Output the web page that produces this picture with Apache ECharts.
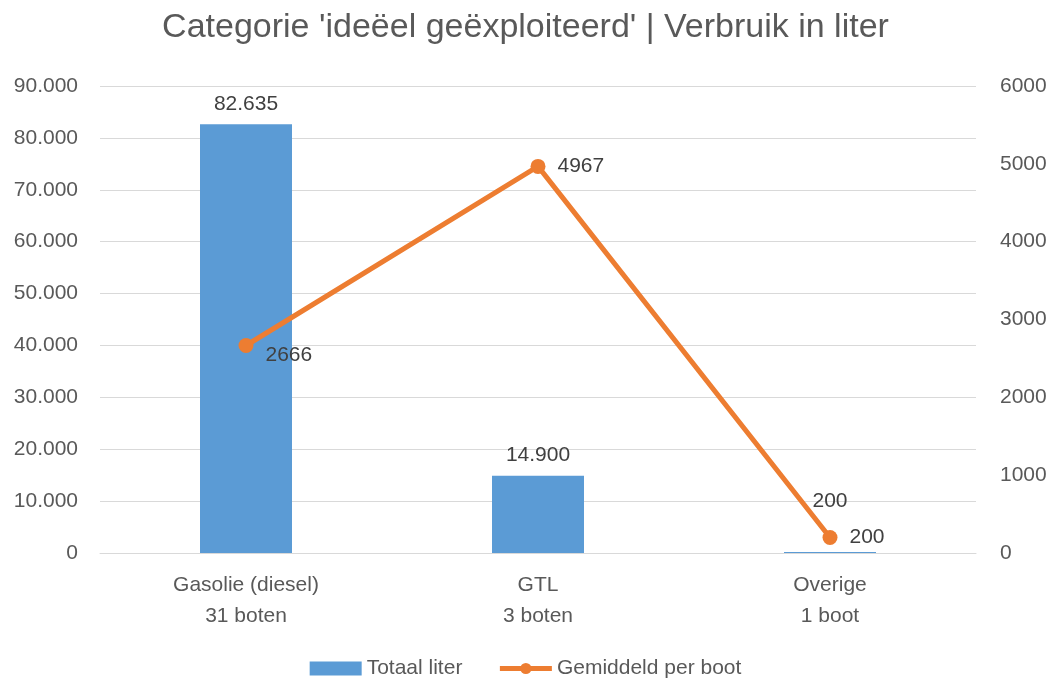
<!DOCTYPE html>
<html><head><meta charset="utf-8">
<script src="https://cdn.jsdelivr.net/npm/echarts@6/dist/echarts.min.js"></script>
<style>html,body{margin:0;padding:0;background:#fff}#c{width:1051px;height:678px}</style>
</head><body><div id="c"></div>
<script>
const categories = ['Gasolie (diesel)\n31 boten', 'GTL\n3 boten', 'Overige\n1 boot'];
const totaalLiter = [82635, 14900, 200];
const gemiddeldPerBoot = [2666, 4967, 200];
const FONT = '"Liberation Sans", "Noto Sans", sans-serif';
const FS = 21;
const fmt = v => String(v).replace(/\B(?=(\d{3})+(?!\d))/g, '.');
const chart = echarts.init(document.getElementById('c'));
chart.setOption({
  animation: false,
  textStyle: {fontFamily: FONT},
  title: {text: "Categorie 'ideëel geëxploiteerd' | Verbruik in liter", left: 'center', top: 6,
    textStyle: {fontFamily: FONT, fontSize: 34, fontWeight: 'normal', color: '#595959'}},
  legend: {top: 653, left: 'center', itemGap: 35, itemWidth: 52, itemHeight: 14,
    textStyle: {fontFamily: FONT, fontSize: FS, color: '#595959'},
    data: [{name: 'Totaal liter', icon: 'rect'}, {name: 'Gemiddeld per boot', lineStyle: {width: 5}}]},
  grid: {left: 100, right: 75, top: 86, bottom: 125},
  xAxis: {type: 'category', data: categories,
    axisLine: {lineStyle: {color: '#D9D9D9'}}, axisTick: {show: false},
    axisLabel: {fontFamily: FONT, fontSize: FS, color: '#595959', lineHeight: 31, margin: 17}},
  yAxis: [
    {type: 'value', min: 0, max: 90000, interval: 10000,
      axisLabel: {fontFamily: FONT, fontSize: FS, color: '#595959', margin: 22, formatter: fmt},
      splitLine: {lineStyle: {color: '#D9D9D9', width: 1}}},
    {type: 'value', min: 0, max: 6000, interval: 1000,
      axisLabel: {fontFamily: FONT, fontSize: FS, color: '#595959', margin: 24, formatter: v => String(v)},
      splitLine: {show: false}}
  ],
  series: [
    {name: 'Totaal liter', type: 'bar', data: totaalLiter, barWidth: 92, yAxisIndex: 0,
      itemStyle: {color: '#5B9BD5'},
      label: {show: true, position: 'top', distance: 10, fontFamily: FONT, fontSize: FS, color: '#404040',
        formatter: p => fmt(p.value)}},
    {name: 'Gemiddeld per boot', type: 'line', data: gemiddeldPerBoot, yAxisIndex: 1,
      symbol: 'circle', symbolSize: 15,
      lineStyle: {color: '#ED7D31', width: 5}, itemStyle: {color: '#ED7D31'},
      label: {show: true, position: 'right', distance: 12, fontFamily: FONT, fontSize: FS, color: '#404040'}}
  ]
});
chart.setOption({series: [
  {data: totaalLiter.map((v, i) => i === 2 ? {value: v, label: {distance: 40}} : v)},
  {data: gemiddeldPerBoot.map((v, i) => i === 0 ? {value: v, label: {offset: [0, 10]}} : v)}
]});
</script></body></html>
